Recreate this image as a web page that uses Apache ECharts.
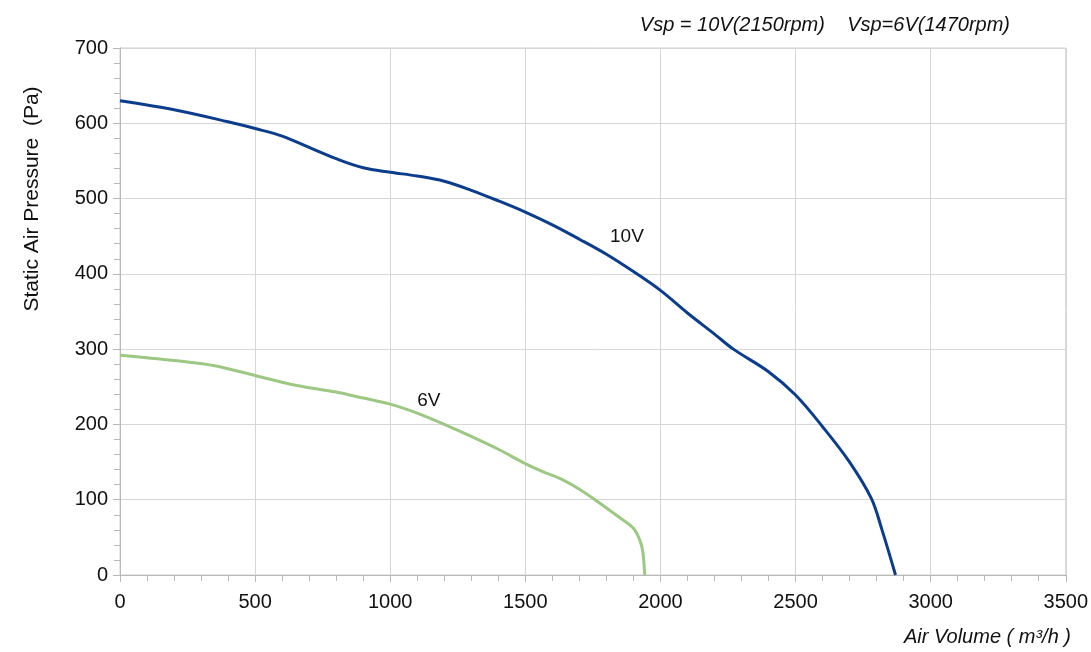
<!DOCTYPE html>
<html>
<head>
<meta charset="utf-8">
<script src="https://cdn.jsdelivr.net/npm/echarts@6/dist/echarts.min.js"></script>
<style>
  html, body { margin: 0; padding: 0; background: #fff; }
  #chart { width: 1091px; height: 652px; }
</style>
</head>
<body>
<div id="chart"></div>
<script>
// Fan performance curves: static pressure vs air volume at two control voltages
const airVolume10V = [0, 200, 400, 500, 600, 700, 800, 900, 1000, 1100, 1200, 1300, 1400, 1500, 1600, 1700, 1800, 1900, 2000, 2100, 2200, 2270, 2400, 2500, 2600, 2700, 2780, 2820, 2870];
const pressure10V  = [630, 618, 602, 593, 583, 568, 553, 541, 535, 530, 523, 511, 497, 482, 465, 446, 426, 403, 378, 348, 320, 300, 270, 239, 197, 150, 102, 60, 0];

const airVolume6V = [0, 200, 350, 500, 650, 800, 900, 1000, 1100, 1200, 1300, 1400, 1500, 1560, 1630, 1700, 1750, 1850, 1900, 1925, 1935, 1942];
const pressure6V  = [292, 285, 278, 265, 252, 243, 235, 227, 215, 200, 184, 167, 148, 138, 128, 114, 102, 76, 62, 45, 30, 0];

const xTicks = [0, 500, 1000, 1500, 2000, 2500, 3000, 3500];
const yTicks = [0, 100, 200, 300, 400, 500, 600, 700];

const curveLabels = [
  { name: '10V', at: [1876, 449] },
  { name: '6V', at: [1143, 232] }
];

const pairs = (xs, ys) => xs.map((x, i) => [x, ys[i]]);

const chart = echarts.init(document.getElementById('chart'));
const font = 'Liberation Sans, Arial, sans-serif';

function labelPoint(lbl) {
  return {
    symbol: 'circle', symbolSize: 0, silent: true,
    label: { show: true, position: 'inside', formatter: lbl.name, color: '#111', fontSize: 19, fontFamily: font },
    data: [{ coord: lbl.at }]
  };
}

chart.setOption({
  animation: false,
  backgroundColor: '#fff',
  title: {
    text: 'Vsp = 10V(2150rpm)    Vsp=6V(1470rpm)',
    right: 76, top: 10,
    textStyle: { fontSize: 20, fontStyle: 'italic', fontWeight: 'normal', color: '#111', fontFamily: font }
  },
  grid: { left: 120, right: 25, top: 48, bottom: 77, containLabel: false,
          show: true, borderColor: '#d0d0d0', borderWidth: 1 },
  xAxis: {
    type: 'value', min: xTicks[0], max: xTicks[xTicks.length - 1], interval: 500,
    axisLine: { show: true, lineStyle: { color: '#b8b8b8', width: 1 } },
    axisTick: { show: true, length: 7, lineStyle: { color: '#b8b8b8' } },
    minorTick: { show: true, splitNumber: 5, length: 6, lineStyle: { color: '#b8b8b8' } },
    splitLine: { show: true, lineStyle: { color: '#d6d6d6', width: 1 } },
    axisLabel: { color: '#111', fontSize: 20, fontFamily: font, margin: 17, formatter: v => String(v) }
  },
  yAxis: {
    type: 'value', min: yTicks[0], max: yTicks[yTicks.length - 1], interval: 100,
    axisLine: { show: true, lineStyle: { color: '#b8b8b8', width: 1 } },
    axisTick: { show: true, length: 7, lineStyle: { color: '#b8b8b8' } },
    minorTick: { show: true, splitNumber: 5, length: 6, lineStyle: { color: '#b8b8b8' } },
    splitLine: { show: true, lineStyle: { color: '#d6d6d6', width: 1 } },
    axisLabel: { color: '#111', fontSize: 20, fontFamily: font, margin: 12, formatter: v => String(v) }
  },
  graphic: [
    {
      type: 'text', x: 32, y: 199, rotation: Math.PI / 2,
      style: { text: 'Static Air Pressure  (Pa)', fontSize: 21, fontFamily: font, fill: '#111',
               align: 'center', verticalAlign: 'middle' }
    },
    {
      type: 'text', right: 20, top: 627,
      style: { text: 'Air Volume ( m³/h )', fontSize: 20, fontStyle: 'italic', fontFamily: font, fill: '#111' }
    }
  ],
  series: [
    {
      name: '10V', type: 'line', data: pairs(airVolume10V, pressure10V),
      smooth: 0.35, showSymbol: false, symbol: 'none',
      lineStyle: { color: '#0c3d8c', width: 3 },
      markPoint: labelPoint(curveLabels[0])
    },
    {
      name: '6V', type: 'line', data: pairs(airVolume6V, pressure6V),
      smooth: 0.35, showSymbol: false, symbol: 'none',
      lineStyle: { color: '#9dc884', width: 3 },
      markPoint: labelPoint(curveLabels[1])
    }
  ]
});
</script>
</body>
</html>
